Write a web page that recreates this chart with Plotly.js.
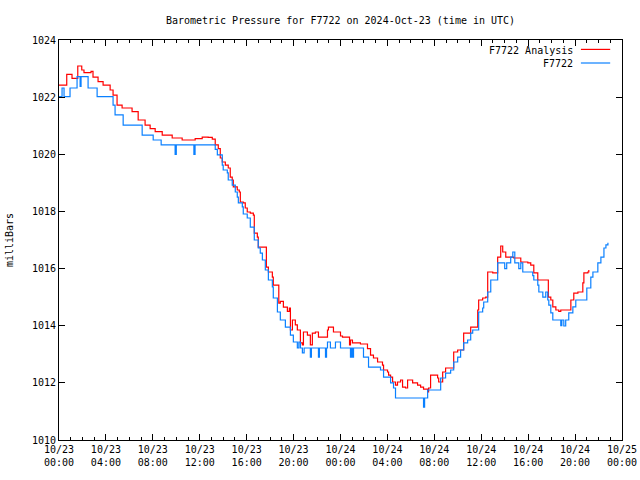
<!DOCTYPE html>
<html>
<head>
<meta charset="utf-8">
<script src="https://cdn.plot.ly/plotly-3.0.1.min.js"></script>
<style>html,body{margin:0;padding:0;background:#fff;}#chart{width:640px;height:480px;}</style>
</head>
<body>
<div id="chart"></div>
<script>
// Hours since 2024-10-23 00:00 UTC, pressure in millibars
const analysisHours = [0.0,0.66,1.11,1.6,1.94,2.13,2.65,2.73,2.9,3.33,3.76,4.36,4.61,4.95,5.38,5.81,6.23,6.75,7.34,7.77,8.2,8.8,9.65,10.5,11.61,12.21,12.72,13.07,13.32,13.58,13.75,13.92,14.18,14.43,14.6,14.77,14.86,15.2,15.37,15.46,15.71,15.88,16.05,16.31,16.57,16.65,16.91,16.99,17.42,17.68,17.85,18.19,18.27,18.7,18.74,18.87,19.13,19.47,19.64,19.73,19.9,20.15,20.32,20.58,20.75,20.84,21.18,21.43,21.6,21.86,22.12,22.89,22.97,23.4,24.0,24.17,24.68,24.77,24.85,25.02,25.45,25.7,26.3,26.56,26.81,27.16,27.58,27.67,28.01,28.1,28.27,28.44,28.69,28.86,29.12,29.29,29.55,29.72,30.15,30.57,30.83,31.08,31.43,31.51,31.68,32.28,32.37,32.71,32.96,33.65,33.99,34.5,35.1,35.7,35.78,36.12,36.38,36.55,36.98,37.4,37.66,37.83,38.09,38.77,39.37,39.97,40.22,40.48,40.82,41.67,41.72,41.93,42.1,42.36,42.61,42.78,43.38,43.64,43.89,44.24,44.66,44.75,45.09,45.17];
const analysisMb = [1022.42,1022.8,1022.66,1023.09,1022.95,1022.86,1022.86,1022.9,1022.7,1022.54,1022.42,1022.25,1022.07,1021.72,1021.62,1021.62,1021.49,1021.2,1021.02,1020.9,1020.79,1020.67,1020.57,1020.5,1020.55,1020.6,1020.59,1020.53,1020.33,1020.2,1019.87,1019.73,1019.62,1019.52,1019.2,1019.1,1018.86,1018.75,1018.68,1018.33,1018.3,1018.12,1017.98,1017.94,1017.87,1017.24,1017.1,1016.75,1016.75,1016.05,1015.88,1015.7,1015.42,1015.42,1014.79,1014.85,1014.65,1014.5,1014.62,1013.85,1014.2,1014.03,1013.85,1013.4,1013.33,1013.78,1013.67,1013.33,1013.74,1013.78,1013.6,1013.85,1013.95,1013.78,1013.64,1013.6,1013.6,1013.33,1013.5,1013.4,1013.4,1013.36,1013.2,1012.97,1012.87,1012.73,1012.62,1012.45,1012.38,1012.27,1012.2,1012.03,1011.92,1012.03,1012.1,1011.85,1011.82,1012.1,1012.0,1011.92,1011.85,1011.78,1011.68,1011.82,1012.27,1012.17,1012.03,1012.38,1012.52,1013.08,1013.15,1013.74,1013.95,1014.55,1014.9,1014.97,1015.0,1015.88,1015.85,1016.4,1016.79,1016.58,1016.4,1016.37,1016.23,1016.2,1016.12,1015.85,1015.6,1015.6,1015.0,1014.9,1014.66,1014.55,1014.5,1014.55,1014.55,1014.9,1015.14,1015.18,1015.5,1015.85,1015.88,1015.95];

const stationHours = [0,0.26,0.43,0.94,1.54,1.8,1.88,2.48,3.25,4.61,4.78,5.04,5.47,7.09,8.03,8.71,9.9,10.0,11.5,11.6,13.15,13.32,13.5,13.92,14.0,14.35,14.43,14.77,15.03,15.2,15.29,15.63,15.71,16.05,16.31,16.65,16.99,17.16,17.34,17.59,17.85,18.19,18.27,18.62,18.87,19.3,19.73,19.98,20.32,20.45,20.58,20.75,20.9,21.43,21.52,21.6,22.12,22.2,22.72,22.81,22.89,23.14,23.57,24.0,24.85,24.93,25.02,25.11,25.28,25.96,26.39,27.41,27.67,28.27,28.52,28.69,31.08,31.17,31.43,32.54,32.96,33.39,33.65,33.99,34.24,34.5,34.84,35.1,35.27,35.78,36.12,36.21,36.55,36.81,37.4,37.83,38.0,38.17,38.51,38.69,38.86,39.2,39.37,39.54,40.39,40.48,40.82,40.91,41.25,41.5,41.67,41.76,41.93,42.1,42.78,42.87,43.04,43.2,43.46,43.81,44.06,45.0,45.34,45.52,45.94,46.2,46.46,46.63,46.8];
const stationMb = [1022.02,1022.32,1022.02,1022.32,1022.72,1022.38,1022.72,1022.32,1022.02,1021.72,1021.38,1021.38,1021.02,1020.67,1020.5,1020.33,1020.0,1020.33,1020.0,1020.33,1020.33,1020.17,1019.98,1019.62,1019.45,1019.35,1019.1,1018.92,1018.68,1018.5,1018.3,1018.16,1017.91,1017.77,1017.45,1017.0,1016.72,1016.54,1016.3,1015.95,1015.6,1015.36,1014.97,1014.48,1014.2,1013.95,1013.67,1013.43,1013.22,1013.43,1013.22,1013.05,1013.22,1012.9,1013.22,1013.22,1012.9,1013.22,1012.9,1013.22,1013.43,1013.22,1013.43,1013.22,1012.9,1013.22,1012.9,1013.22,1013.22,1012.9,1012.55,1012.45,1012.2,1012.0,1011.82,1011.47,1011.15,1011.47,1011.75,1012.17,1012.34,1012.45,1012.73,1012.9,1013.15,1013.4,1013.5,1013.74,1013.85,1014.48,1014.62,1014.83,1015.18,1015.6,1016.2,1016.2,1016.0,1016.2,1016.4,1016.58,1016.2,1016.0,1016.2,1015.88,1015.75,1015.6,1015.42,1015.18,1015.0,1015.18,1014.9,1014.72,1014.45,1014.2,1014.0,1014.2,1013.99,1014.2,1014.45,1014.66,1014.9,1015.32,1015.7,1015.88,1016.2,1016.4,1016.72,1016.83,1016.9];

const seriesNames = ["F7722 Analysis", "F7722"];
const seriesColors = ["#ff0000", "#0a80ff"];

const T0 = Date.UTC(2024, 9, 23, 0, 0, 0);
const HOUR = 3600000;
const toTime = h => T0 + h * HOUR;

const mono = "DejaVu Sans Mono, monospace";

const traces = [
  {x: analysisHours.map(toTime), y: analysisMb, name: seriesNames[0], type: "scatter", mode: "lines",
   line: {color: seriesColors[0], width: 1.2, shape: "hv"}},
  {x: stationHours.map(toTime), y: stationMb, name: seriesNames[1], type: "scatter", mode: "lines",
   line: {color: seriesColors[1], width: 1.2, shape: "hv"}}
];

const layout = {
  width: 640, height: 480,
  margin: {l: 59, r: 18, t: 40, b: 40},
  paper_bgcolor: "#fff", plot_bgcolor: "#fff",
  showlegend: false,
  font: {family: mono, size: 10, color: "#000"},
  title: {text: "Barometric Pressure for F7722 on 2024-Oct-23 (time in UTC)", font: {family: mono, size: 10, color: "#000"},
          x: 0.5, xref: "paper", xanchor: "center", y: 0.958, yanchor: "middle"},
  xaxis: {
    type: "date", range: [T0, T0 + 48 * HOUR], tick0: T0, dtick: 4 * HOUR,
    tickformat: "%m/%d<br>%H:%M", ticks: "inside", ticklen: 6, tickcolor: "#000",
    showline: true, linecolor: "#000", linewidth: 1, mirror: "allticks",
    showgrid: false, zeroline: false,
    minor: {ticks: "inside", dtick: HOUR, ticklen: 3, tickcolor: "#000", showgrid: false},
    tickfont: {family: mono, size: 10, color: "#000"}
  },
  yaxis: {
    range: [1010, 1024], dtick: 2, tick0: 1010, ticks: "inside", ticklen: 6, tickcolor: "#000",
    showline: true, linecolor: "#000", linewidth: 1, mirror: "allticks",
    showgrid: false, zeroline: false,
    title: {text: "milliBars", font: {family: mono, size: 10, color: "#000"}, standoff: 16},
    tickfont: {family: mono, size: 10, color: "#000"}
  },
  annotations: [
    {text: seriesNames[0], xref: "paper", yref: "paper", x: 0.917, y: 0.974, xanchor: "right", yanchor: "middle", showarrow: false,
     font: {family: mono, size: 10, color: "#000"}},
    {text: seriesNames[1], xref: "paper", yref: "paper", x: 0.917, y: 0.9405, xanchor: "right", yanchor: "middle", showarrow: false,
     font: {family: mono, size: 10, color: "#000"}}
  ],
  shapes: [
    {type: "line", xref: "paper", yref: "paper", x0: 0.927, x1: 0.979, y0: 0.9765, y1: 0.9765, line: {color: seriesColors[0], width: 1.2}},
    {type: "line", xref: "paper", yref: "paper", x0: 0.927, x1: 0.979, y0: 0.9425, y1: 0.9425, line: {color: seriesColors[1], width: 1.2}}
  ]
};

Plotly.newPlot("chart", traces, layout, {staticPlot: true, displayModeBar: false});
</script>
</body>
</html>
